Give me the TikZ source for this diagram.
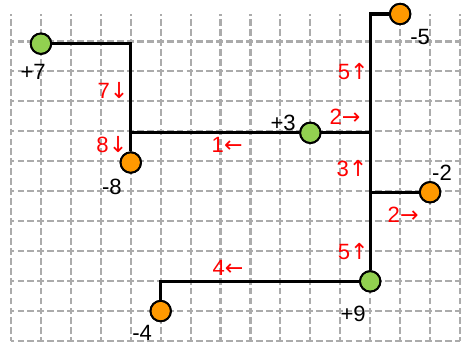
\documentclass[tikz,border=0pt]{standalone}
\usepackage{fontspec}
\setmainfont{Liberation Sans}
\newfontfamily\arrowfont{DejaVu Sans}
\usetikzlibrary{positioning}
\definecolor{leafgreen}{HTML}{92D050}
\definecolor{sourceorange}{HTML}{FF9900}
\definecolor{gridgray}{HTML}{ABABAB}
\newcommand{\flowarrow}[1]{{\arrowfont #1}}

\begin{document}
\begin{tikzpicture}[x=1cm, y=0.9925cm,
    gridline/.style={draw=gridgray, line width=2pt, dash pattern=on 6.5pt off 2.95pt, dash phase=3.25pt},
    wire/.style={draw=black, line width=3pt},
    ring/.style={circle, draw=black, line width=1.7pt, minimum size=19.5pt, inner sep=0pt},
    plusnode/.style={ring, fill=leafgreen},
    minusnode/.style={ring, fill=sourceorange},
    val/.style={font=\fontsize{21}{24}\selectfont, text=black, inner sep=0pt},
    flow/.style={val, text=red}]
      \useasboundingbox (-0.368,-0.178) rectangle (15.10,11.471);

      % grid
      \draw[gridline] (0,0) grid (15,11);

      % sources and sinks
      \node[plusnode] (p7) at (1,10) {};
      \node[minusnode] (m8) at (4,6) {};
      \node[plusnode] (p3) at (10,7) {};
      \node[minusnode] (m5) at (13,11) {};
      \node[minusnode] (m2) at (14,5) {};
      \node[plusnode] (p9) at (12,2) {};
      \node[minusnode] (m4) at (5,1) {};

      % junctions
      \coordinate (ja) at (4,7);
      \coordinate (jb) at (12,7);
      \coordinate (jc) at (12,5);

      % wires
      \draw[wire] (p7) -| (m8);
      \draw[wire] (ja) -- (p3);
      \draw[wire] (p3) -- (jb);
      \draw[wire] (p9) |- (m5);
      \draw[wire] (jc) -- (m2);
      \draw[wire] (p9) -| (m4);
      \foreach \n in {p7,m8,p3,m5,m2,p9,m4} \node[ring] at (\n) {};

      % values
      \node[val] (vp7) at (0.74,9.05) {+7};
      \node[val] (vm8) at (3.37,5.18) {-8};
      \node[val] (vp3) at (9.09,7.33) {+3};
      \node[val] (vm5) at (13.67,10.23) {-5};
      \node[val] (vm2) at (14.40,5.65) {-2};
      \node[val] (vp9) at (11.43,0.90) {+9};
      \node[val] (vm4) at (4.38,0.26) {-4};

      % flows
      \node[flow] (f7) at (3.41,8.44) {7\flowarrow{↓}};
      \node[flow] (f8) at (3.37,6.59) {8\flowarrow{↓}};
      \node[flow] (f1) at (7.22,6.59) {1\flowarrow{←}};
      \node[flow] (f2a) at (11.16,7.53) {2\flowarrow{→}};
      \node[flow] (f5a) at (11.43,9.05) {5\flowarrow{↑}};
      \node[flow] (f3) at (11.39,5.81) {3\flowarrow{↑}};
      \node[flow] (f2b) at (13.10,4.23) {2\flowarrow{→}};
      \node[flow] (f5b) at (11.43,3.02) {5\flowarrow{↑}};
      \node[flow] (f4) at (7.25,2.45) {4\flowarrow{←}};
    \end{tikzpicture}
\end{document}
